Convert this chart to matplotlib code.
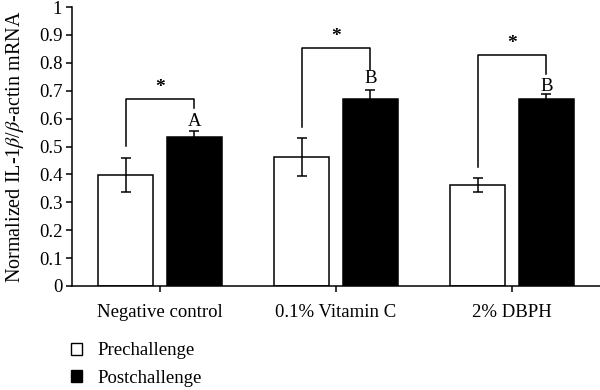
import matplotlib
matplotlib.use('Agg')
import matplotlib.pyplot as plt
from matplotlib.patches import Patch
import numpy as np

# Data
groups = ['Negative control', '0.1% Vitamin C', '2% DBPH']
pre_vals = [0.397, 0.461, 0.363]
pre_err = [0.060, 0.068, 0.025]
post_vals = [0.534, 0.669, 0.669]
post_err = [0.020, 0.034, 0.018]
letters = ['A', 'B', 'B']
letter_y = [0.589, 0.742, 0.714]
# significance brackets: top height, left leg end, right leg end, star height
bracket_top = [0.671, 0.852, 0.828]
bracket_left = [0.503, 0.571, 0.428]
bracket_right = [0.637, 0.774, 0.759]
star_y = [0.710, 0.895, 0.871]
yticks = [0, 0.1, 0.2, 0.3, 0.4, 0.5, 0.6, 0.7, 0.8, 0.9, 1]
ytick_labels = ['0', '0.1', '0.2', '0.3', '0.4', '0.5', '0.6', '0.7', '0.8', '0.9', '1']

plt.rcParams['font.family'] = ['Liberation Serif', 'DejaVu Serif']
plt.rcParams['mathtext.fontset'] = 'stix'

fs = 13.5
fig = plt.figure(figsize=(6, 3.9), dpi=100)
ax = fig.add_axes([0.12, 0.2667, 0.88, 0.7153])

x = np.arange(len(groups))
w = 0.31
off = 0.195
ekw = dict(ecolor='black', elinewidth=1.1, capsize=3.5, capthick=1.1)
ax.bar(x - off, pre_vals, w, yerr=pre_err, color='white', edgecolor='black',
       linewidth=1.1, error_kw=ekw, label='Prechallenge', zorder=2)
ax.bar(x + off, post_vals, w, yerr=post_err, color='black', edgecolor='black',
       linewidth=1.1, error_kw=ekw, label='Postchallenge', zorder=2)

for i in range(len(groups)):
    xl, xr = x[i] - off, x[i] + off
    ax.plot([xl, xl, xr, xr], [bracket_left[i], bracket_top[i], bracket_top[i], bracket_right[i]],
            color='black', lw=1.1, zorder=3)
    ax.text(x[i], star_y[i], '*', ha='center', va='center', fontsize=14, fontweight='bold')
    ax.text(xr, letter_y[i], letters[i], ha='center', va='center', fontsize=fs)

ax.set_xlim(-0.5, 2.5)
ax.set_ylim(0, 1)
ax.set_yticks(yticks)
ax.set_yticklabels(ytick_labels)
ax.set_xticks(x)
ax.set_xticklabels(groups)
ax.tick_params(axis='both', labelsize=fs, width=1.1, length=4, color='black')
ax.tick_params(axis='x', pad=9)
ax.tick_params(axis='y', pad=3)
ax.spines['top'].set_visible(False)
ax.spines['right'].set_visible(False)
ax.spines['left'].set_linewidth(1.1)
ax.spines['bottom'].set_linewidth(1.1)
ax.set_ylabel(r'Normalized IL-1$\beta$/$\beta$-actin mRNA', fontsize=14.5, labelpad=9)

handles = [Patch(facecolor='white', edgecolor='black', lw=1),
           Patch(facecolor='black', edgecolor='black', lw=1)]
fig.legend(handles, ['Prechallenge', 'Postchallenge'], loc='lower left',
           bbox_to_anchor=(0.09, -0.035), frameon=False, fontsize=fs,
           handlelength=0.6, handleheight=0.6, handletextpad=0.8, labelspacing=0.55)

fig.savefig('out.png', dpi=100)
